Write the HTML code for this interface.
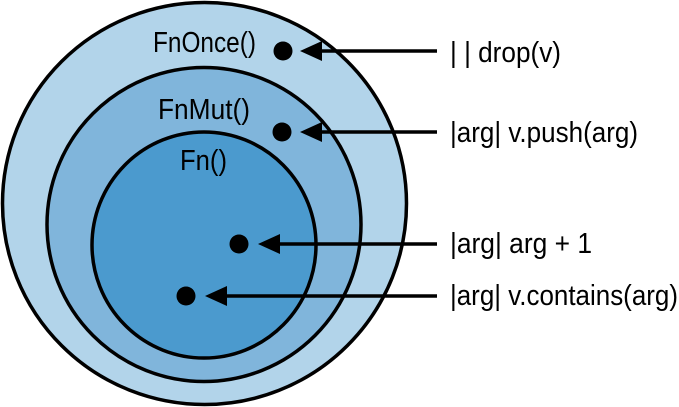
<!DOCTYPE html>
<html><head><style>html,body{margin:0;padding:0;background:#fff}svg{display:block}</style></head>
<body>
<svg width="679" height="407" viewBox="0 0 679 407" xmlns="http://www.w3.org/2000/svg" font-family="'Liberation Sans Narrow','Liberation Sans',sans-serif" font-size="29">
<ellipse cx="204.5" cy="203.5" rx="202" ry="201" fill="#b2d4ea" stroke="#000" stroke-width="3.5"/>
<ellipse cx="204" cy="224.5" rx="157" ry="157" fill="#80b5db" stroke="#000" stroke-width="3.5"/>
<ellipse cx="204" cy="245" rx="112" ry="113" fill="#4b9ace" stroke="#000" stroke-width="3.5"/>
<g fill="#000">
<text x="153" y="52" textLength="103" lengthAdjust="spacingAndGlyphs">FnOnce()</text>
<text x="158" y="119" textLength="92" lengthAdjust="spacingAndGlyphs">FnMut()</text>
<text x="180" y="170" textLength="47" lengthAdjust="spacingAndGlyphs">Fn()</text>
<circle cx="283" cy="51" r="9.5"/><circle cx="282" cy="132" r="9.5"/>
<circle cx="239" cy="244" r="9.5"/><circle cx="186" cy="296" r="9.5"/>
<polygon points="300,51 322,41 322,61"/><polygon points="300,132 322,122 322,142"/>
<polygon points="258,244 280,234 280,254"/><polygon points="205,296 227,286 227,306"/>
<text x="450" y="62" textLength="111" lengthAdjust="spacingAndGlyphs">| | drop(v)</text>
<text x="450" y="142" textLength="188" lengthAdjust="spacingAndGlyphs">|arg| v.push(arg)</text>
<text x="450" y="253" textLength="142" lengthAdjust="spacingAndGlyphs">|arg| arg + 1</text>
<text x="450" y="305" textLength="228" lengthAdjust="spacingAndGlyphs">|arg| v.contains(arg)</text>
</g>
<g stroke="#000" stroke-width="3.5">
<line x1="318" y1="51" x2="437" y2="51"/><line x1="318" y1="132" x2="437" y2="132"/>
<line x1="276" y1="244" x2="437" y2="244"/><line x1="223" y1="296" x2="437" y2="296"/>
</g>
</svg>
</body></html>
